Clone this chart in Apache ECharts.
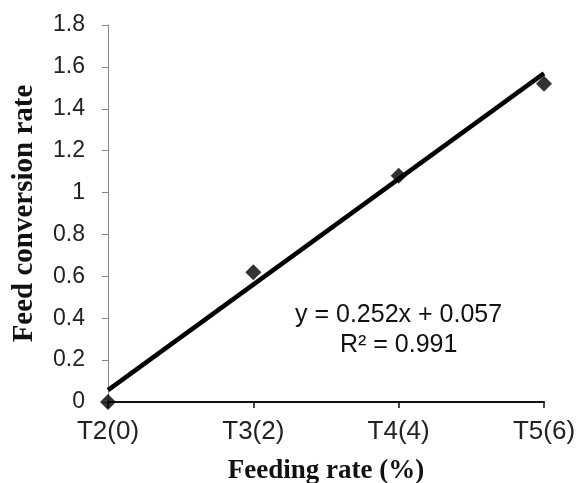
<!DOCTYPE html>
<html>
<head>
<meta charset="utf-8">
<script src="https://cdn.jsdelivr.net/npm/echarts@6/dist/echarts.min.js"></script>
<style>html,body{margin:0;padding:0;background:#fff;}#c{width:577px;height:483px;}</style>
</head>
<body>
<div id="c"></div>
<script>
var categories = ['T2(0)', 'T3(2)', 'T4(4)', 'T5(6)'];
var xValues = [0, 2, 4, 6];
var fcrValues = [0, 0.62, 1.08, 1.52];
var trendX = [0, 6];
var trendY = [0.057, 1.569];
var equationText = 'y = 0.252x + 0.057';
var r2Text = 'R² = 0.991';

var chart = echarts.init(document.getElementById('c'));
chart.setOption({
  animation: false,
  backgroundColor: '#fff',
  grid: { left: 108, right: 33, top: 25, bottom: 81, containLabel: false, outerBoundsMode: 'none' },
  xAxis: {
    type: 'value', min: 0, max: 6, interval: 2,
    name: 'Feeding rate (%)', nameLocation: 'middle', nameGap: 56,
    nameTextStyle: { fontFamily: 'Liberation Serif', fontWeight: 'bold', fontSize: 27, color: '#111' },
    axisLine: { show: true, lineStyle: { color: '#111', width: 2 } },
    axisTick: { show: true, inside: false, length: 6, lineStyle: { color: '#111', width: 1.5 } },
    axisLabel: {
      fontFamily: 'Liberation Sans', fontSize: 26, color: '#222', margin: 17,
      formatter: function (v) { var i = xValues.indexOf(v); return i >= 0 ? categories[i] : ''; }
    },
    splitLine: { show: false }
  },
  yAxis: {
    type: 'value', min: 0, max: 1.8, interval: 0.2,
    name: 'Feed conversion rate', nameLocation: 'middle', nameGap: 69,
    nameTextStyle: { fontFamily: 'Liberation Serif', fontWeight: 'bold', fontSize: 29, color: '#111' },
    axisLine: { show: true, lineStyle: { color: '#888', width: 1 } },
    axisTick: { show: true, inside: false, length: 6, lineStyle: { color: '#888' } },
    axisLabel: {
      fontFamily: 'Liberation Sans', fontSize: 23, color: '#222', margin: 23,
      formatter: function (v) { return String(Math.round(v * 10) / 10); }
    },
    splitLine: { show: false }
  },
  series: [
    {
      type: 'line', data: trendX.map(function (x, i) { return [x, trendY[i]]; }),
      showSymbol: false, symbol: 'none', lineStyle: { color: '#000', width: 4.5 }, z: 2
    },
    {
      type: 'scatter', data: xValues.map(function (x, i) { return [x, fcrValues[i]]; }),
      symbol: 'diamond', symbolSize: [16, 16], itemStyle: { color: '#000' }, z: 3, clip: false
    }
  ],
  graphic: [
    { type: 'text', x: 295, y: 315, style: { text: equationText, fontFamily: 'Liberation Sans', fontSize: 25, fill: '#111', align: 'left', verticalAlign: 'middle' } },
    { type: 'text', x: 340, y: 345, style: { text: r2Text, fontFamily: 'Liberation Sans', fontSize: 25, fill: '#111', align: 'left', verticalAlign: 'middle' } }
  ]
});
</script>
</body>
</html>
